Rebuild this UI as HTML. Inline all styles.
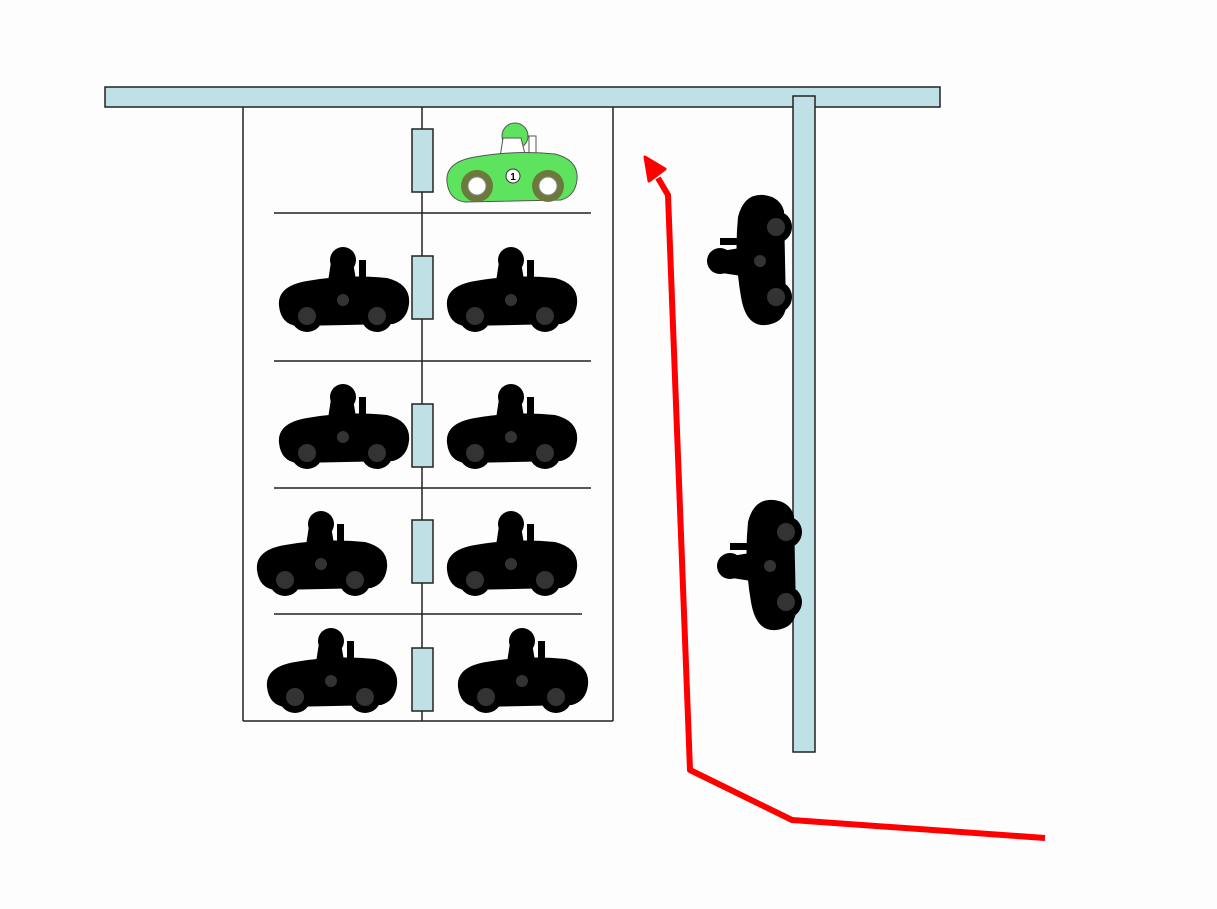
<!DOCTYPE html>
<html><head><meta charset="utf-8"><style>body{margin:0;background:#fdfdfd}svg{display:block}</style></head>
<body>
<svg width="1217" height="909" viewBox="0 0 1217 909" xmlns="http://www.w3.org/2000/svg">
<defs>
<g id="car">
  <circle cx="66" cy="12" r="13"/>
  <path d="M54,14 L76,14 L80,38 L50,40 Z"/>
  <rect x="82" y="12" width="7" height="28"/>
  <path d="M2,58 Q0,38 30,33 Q70,26 110,30 Q134,36 132,56 Q130,72 116,76 L20,78 Q4,76 2,58 Z"/>
  <circle cx="30" cy="68" r="16"/>
  <circle cx="100" cy="68" r="16"/>
  <circle cx="30" cy="68" r="9" fill="#333"/>
  <circle cx="100" cy="68" r="9" fill="#333"/>
  <circle cx="66" cy="52" r="6" fill="#333"/>
</g>
<g id="gcar">
  <circle cx="70" cy="12" r="13" fill="#5ee35e" stroke="#555"/>
  <path d="M58,14 L76,14 L82,38 L54,40 Z" fill="#fff" stroke="#555"/>
  <rect x="84" y="12" width="7" height="28" fill="#fff" stroke="#555"/>
  <path d="M2,58 Q0,38 30,33 Q70,26 110,30 Q134,36 132,56 Q130,72 116,76 L20,78 Q4,76 2,58 Z" fill="#5ee35e" stroke="#555"/>
  <circle cx="32" cy="62" r="16" fill="#6b7a3a"/>
  <circle cx="103" cy="62" r="16" fill="#6b7a3a"/>
  <circle cx="32" cy="62" r="9" fill="#fff" stroke="#888"/>
  <circle cx="103" cy="62" r="9" fill="#fff" stroke="#888"/>
  <circle cx="68" cy="52" r="7" fill="#fff" stroke="#333"/>
  <text x="68" y="56" font-family="Liberation Sans" font-size="10" text-anchor="middle" font-weight="bold">1</text>
</g>
</defs>
<rect x="105" y="87" width="835" height="20" fill="#bfe1e5" stroke="#222" stroke-width="1.5"/>
<rect x="793" y="96" width="22" height="656" fill="#bfe1e5" stroke="#222" stroke-width="1.5"/>
<g stroke="#222" stroke-width="1.5" fill="none">
<line x1="243" y1="107" x2="243" y2="721"/>
<line x1="613" y1="107" x2="613" y2="721"/>
<line x1="243" y1="721" x2="613" y2="721"/>
<line x1="422" y1="107" x2="422" y2="721"/>
<line x1="274" y1="213" x2="591" y2="213"/>
<line x1="274" y1="361" x2="591" y2="361"/>
<line x1="274" y1="488" x2="591" y2="488"/>
<line x1="274" y1="614" x2="582" y2="614"/>
</g>
<g fill="#bfe1e5" stroke="#222" stroke-width="1.5">
<rect x="412" y="129" width="21" height="63"/>
<rect x="412" y="256" width="21" height="63"/>
<rect x="412" y="404" width="21" height="63"/>
<rect x="412" y="520" width="21" height="63"/>
<rect x="412" y="648" width="21" height="63"/>
</g>
<use href="#gcar" transform="translate(445,124)"/>
<use href="#car" transform="translate(277,248)"/>
<use href="#car" transform="translate(445,248)"/>
<use href="#car" transform="translate(277,385)"/>
<use href="#car" transform="translate(445,385)"/>
<use href="#car" transform="translate(255,512)"/>
<use href="#car" transform="translate(445,512)"/>
<use href="#car" transform="translate(265,629)"/>
<use href="#car" transform="translate(456,629)"/>
<use href="#car" transform="translate(708,327) rotate(-90)"/>
<use href="#car" transform="translate(718,632) rotate(-90)"/>
<polyline points="1045,838 792,820 690,770 668,195 658,178" fill="none" stroke="#f00" stroke-width="6" stroke-linejoin="round"/>
<polygon points="645,157 665,169 649,181" fill="#f00" stroke="#f00" stroke-width="3" stroke-linejoin="round"/>
</svg>
</body></html>
